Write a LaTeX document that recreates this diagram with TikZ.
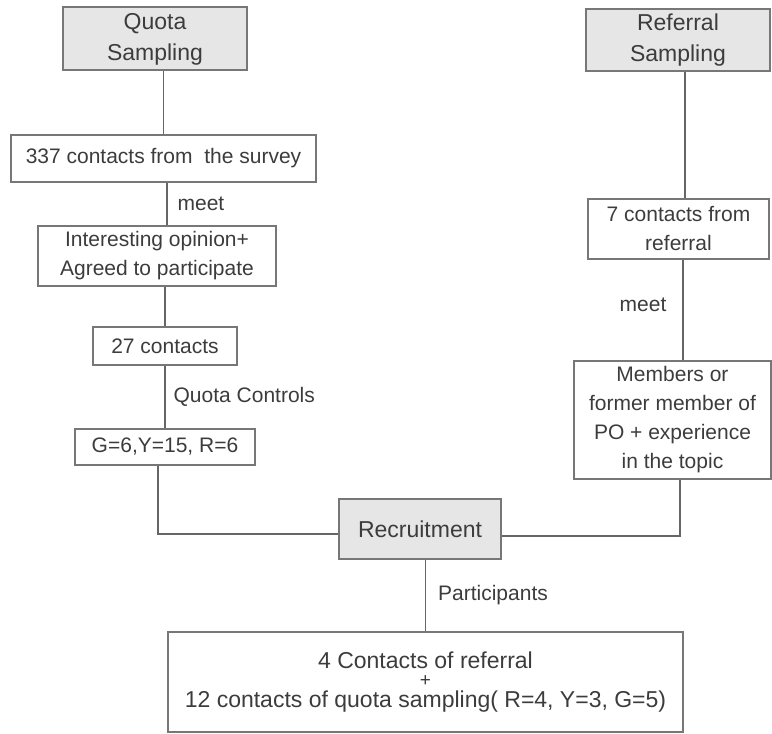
\documentclass[tikz,border=0pt]{standalone}
\usepackage{fontspec}
\setmainfont{Liberation Sans}
\usepackage{xcolor}
\usepackage{tikz}
\usetikzlibrary{positioning,calc}
\definecolor{ink}{HTML}{3C3C3C}
\definecolor{wire}{HTML}{666666}
\definecolor{frame}{HTML}{777777}
\definecolor{shade}{HTML}{E6E6E6}
\tikzset{
    box/.style={rectangle, draw=frame, line width=1.2pt, inner sep=0pt, align=center, text=ink, font=\fontsize{21}{29}\selectfont},
    headbox/.style={box, fill=shade, font=\fontsize{23}{31}\selectfont},
    link/.style={draw=wire, line width=1.3pt},
    tag/.style={inner sep=0pt, text=ink, font=\fontsize{21}{25}\selectfont}
}

\begin{document}
\begin{tikzpicture}[x=1pt, y=-1pt]
    \useasboundingbox (0,0) rectangle (772,734);
    % left branch
    \node[headbox, minimum width=184, minimum height=63, text depth=4pt] (quota) at (155,38.5) {Quota\\Sampling};
    \node[box, minimum width=305, minimum height=47] (survey) at (163.5,158.5) {337 contacts from\ \ the survey};
    \node[box, minimum width=238, minimum height=60] (agreed) at (157,256) {Interesting opinion+\\Agreed to participate};
    \node[box, minimum width=144, minimum height=38] (contacts) at (165,346) {27 contacts};
    \node[box, minimum width=180, minimum height=36] (quotas) at (165,447) {G=6,Y=15, R=6};
    % right branch
    \node[headbox, minimum width=184, minimum height=62, text depth=4pt] (referral) at (678,40) {Referral\\Sampling};
    \node[box, minimum width=181, minimum height=60] (refcontacts) at (678.5,229) {7 contacts from\\referral};
    \node[box, minimum width=197, minimum height=118] (members) at (672.5,420) {Members or\\former member of\\PO + experience\\in the topic};
    % bottom
    \node[headbox, minimum width=162, minimum height=60] (recruit) at (420,529) {Recruitment};
    \node[box, minimum width=515, minimum height=100, font=\fontsize{23}{18}\selectfont] (result) at (425.5,682) {4 Contacts of referral\\{\fontsize{19}{18}\selectfont +}\\[3pt]12 contacts of quota sampling( R=4, Y=3, G=5)};

    \draw[link] (quota.south -| survey.north) -- (survey.north);
    \draw[link] ([xshift=3.5pt]survey.south) -- node[tag, right=10pt] {meet} ([xshift=3.5pt]survey.south |- agreed.north);
    \draw[link] (contacts.north) -- (contacts.north |- agreed.south);
    \draw[link] (contacts.south) -- node[tag, right=8pt] {Quota Controls} (quotas.north);
    \draw[link] ([xshift=-7pt]quotas.south) |- ([yshift=-5pt]recruit.west);
    \draw[link] ([xshift=7pt]referral.south) -- ([xshift=7pt]referral.south |- refcontacts.north);
    \draw[link] ([xshift=4.5pt]refcontacts.south) -- node[tag, left=16pt, pos=0.45] {meet} ([xshift=4.5pt]refcontacts.south |- members.north);
    \draw[link] ([xshift=7.5pt]members.south) |- ([yshift=-7pt]recruit.east);
    \draw[link] (result.north) -- node[tag, right=12pt] {Participants} (result.north |- recruit.south);
\end{tikzpicture}
\end{document}
